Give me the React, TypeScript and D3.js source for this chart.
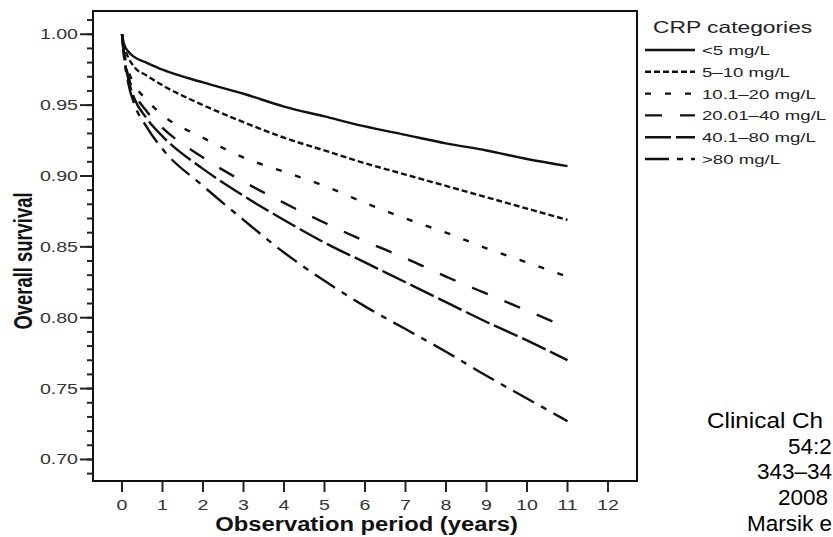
import React from "react";
import * as d3 from "d3";

const years = [0, 0.05, 0.15, 0.3, 0.6, 1, 2, 3, 4, 5, 6, 7, 8, 9, 10, 11];
const crpLt5 = [1.0, 0.993, 0.988, 0.984, 0.98, 0.975, 0.966, 0.958, 0.949, 0.942, 0.935, 0.929, 0.923, 0.918, 0.912, 0.907];
const crp5to10 = [1.0, 0.992, 0.984, 0.977, 0.971, 0.964, 0.95, 0.938, 0.927, 0.918, 0.909, 0.901, 0.893, 0.885, 0.877, 0.869];
const crp10to20 = [1.0, 0.988, 0.975, 0.965, 0.954, 0.943, 0.927, 0.913, 0.903, 0.893, 0.881, 0.87, 0.86, 0.849, 0.839, 0.829];
const crp20to40 = [1.0, 0.986, 0.971, 0.959, 0.946, 0.934, 0.913, 0.896, 0.881, 0.867, 0.854, 0.842, 0.829, 0.817, 0.805, 0.793];
const crp40to80 = [1.0, 0.985, 0.969, 0.955, 0.941, 0.928, 0.905, 0.886, 0.869, 0.853, 0.839, 0.825, 0.811, 0.797, 0.784, 0.77];
const crpGt80 = [1.0, 0.984, 0.966, 0.951, 0.935, 0.919, 0.893, 0.869, 0.846, 0.826, 0.808, 0.792, 0.776, 0.759, 0.743, 0.727];

const categoryLabels = ["<5 mg/L", "5–10 mg/L", "10.1–20 mg/L", "20.01–40 mg/L", "40.1–80 mg/L", ">80 mg/L"];
const seriesValues = [crpLt5, crp5to10, crp10to20, crp20to40, crp40to80, crpGt80];
const dashPatterns = ["", "6,3", "6,14", "17,18", "26,5", "24,8,6,8"];

const xTicks = [0, 1, 2, 3, 4, 5, 6, 7, 8, 9, 10, 11, 12];
const yMajorTicks = [0.7, 0.75, 0.8, 0.85, 0.9, 0.95, 1.0];
const yMinorTicks = d3.range(69, 102).map((v) => v / 100);
const legendTitle = "CRP categories";
const xTitle = "Observation period (years)";
const yTitle = "Overall survival";
const citationLines = ["Clinical Ch", "54:2", "343–34", "2008", "Marsik e"];
const citationStarts = [707, 788, 757, 778, 747];

const SX = 1.4;

export default function App() {
  const W = 833;
  const H = 537;
  const left = 93, right = 637, top = 11, bottom = 481;
  const x = d3.scaleLinear().domain([-0.716, 12.716]).range([left, right]);
  const y = d3.scaleLinear().domain([0.6848, 1.0164]).range([bottom, top]);
  const line = d3
    .line<[number, number]>()
    .x((d) => x(d[0]))
    .y((d) => y(d[1]))
    .curve(d3.curveMonotoneX);

  const font = "'Liberation Sans', Arial, Helvetica, sans-serif";
  const legX0 = 645, legX1 = 695, legTextX = 702;
  const legRow0 = 50, legStep = 21.8;

  return (
    <svg
      width={W}
      height={H}
      viewBox={`0 0 ${W} ${H}`}
      style={{ position: "absolute", left: 0, top: 0, background: "#fff" }}
      fontFamily={font}
    >
      <rect x={0} y={0} width={W} height={H} fill="#fff" />
      {/* plot frame */}
      <rect x={left} y={top} width={right - left} height={bottom - top} fill="none" stroke="#111" strokeWidth={2} />

      {/* y minor ticks */}
      {yMinorTicks.map((v) => (
        <line key={"ym" + v} x1={left - 6} x2={left} y1={y(v)} y2={y(v)} stroke="#222" strokeWidth={2} />
      ))}
      {/* y major ticks + labels */}
      {yMajorTicks.map((v) => (
        <g key={"yM" + v}>
          <line x1={left - 13} x2={left} y1={y(v)} y2={y(v)} stroke="#222" strokeWidth={2} />
          <text
            transform={`translate(${left - 15},${y(v) + 5}) scale(${SX},1)`}
            textAnchor="end"
            fontSize={14}
            fill="#333"
          >
            {d3.format(".2f")(v)}
          </text>
        </g>
      ))}

      {/* x ticks + labels */}
      {xTicks.map((t) => (
        <g key={"x" + t}>
          <line x1={x(t)} x2={x(t)} y1={bottom} y2={bottom + 11} stroke="#222" strokeWidth={2} />
          <text
            transform={`translate(${x(t)},${bottom + 29}) scale(${SX},1)`}
            textAnchor="middle"
            fontSize={14}
            fill="#333"
          >
            {t}
          </text>
        </g>
      ))}

      {/* axis titles */}
      <text
        transform={`translate(${(215 + 518) / 2},${531}) scale(1.19,1)`}
        textAnchor="middle"
        fontSize={20}
        fontWeight="bold"
        fill="#111"
      >
        {xTitle}
      </text>
      <text
        transform={`translate(${32},${261}) scale(1.45,1) rotate(-90)`}
        textAnchor="middle"
        fontSize={18.4}
        fontWeight="bold"
        fill="#111"
      >
        {yTitle}
      </text>

      {/* curves */}
      {seriesValues.map((vals, i) => (
        <path
          key={"s" + i}
          d={line(years.map((t, j) => [t, vals[j]] as [number, number])) || ""}
          fill="none"
          stroke="#111"
          strokeWidth={2.4}
          strokeDasharray={dashPatterns[i] || undefined}
        />
      ))}

      {/* legend */}
      <text
        transform={`translate(${653},${33}) scale(${SX},1)`}
        fontSize={16.3}
        fill="#222"
      >
        {legendTitle}
      </text>
      {categoryLabels.map((lab, i) => {
        const cy = legRow0 + i * legStep;
        return (
          <g key={"leg" + i}>
            <line
              x1={legX0}
              x2={legX1}
              y1={cy}
              y2={cy}
              stroke="#111"
              strokeWidth={2.4}
              strokeDasharray={dashPatterns[i] || undefined}
            />
            <text
              transform={`translate(${legTextX},${cy + 5}) scale(${SX},1)`}
              fontSize={13.3}
              fill="#222"
            >
              {lab}
            </text>
          </g>
        );
      })}

      {/* citation (the part visible in the reference) */}
      {citationLines.map((s, i) => (
        <text
          key={"c" + i}
          transform={`translate(${citationStarts[i]},${428 + i * 25.7}) scale(${i === 0 ? 1.08 : 1},1)`}
          fontSize={22.5}
          fill="#000"
        >
          {s}
        </text>
      ))}
    </svg>
  );
}
